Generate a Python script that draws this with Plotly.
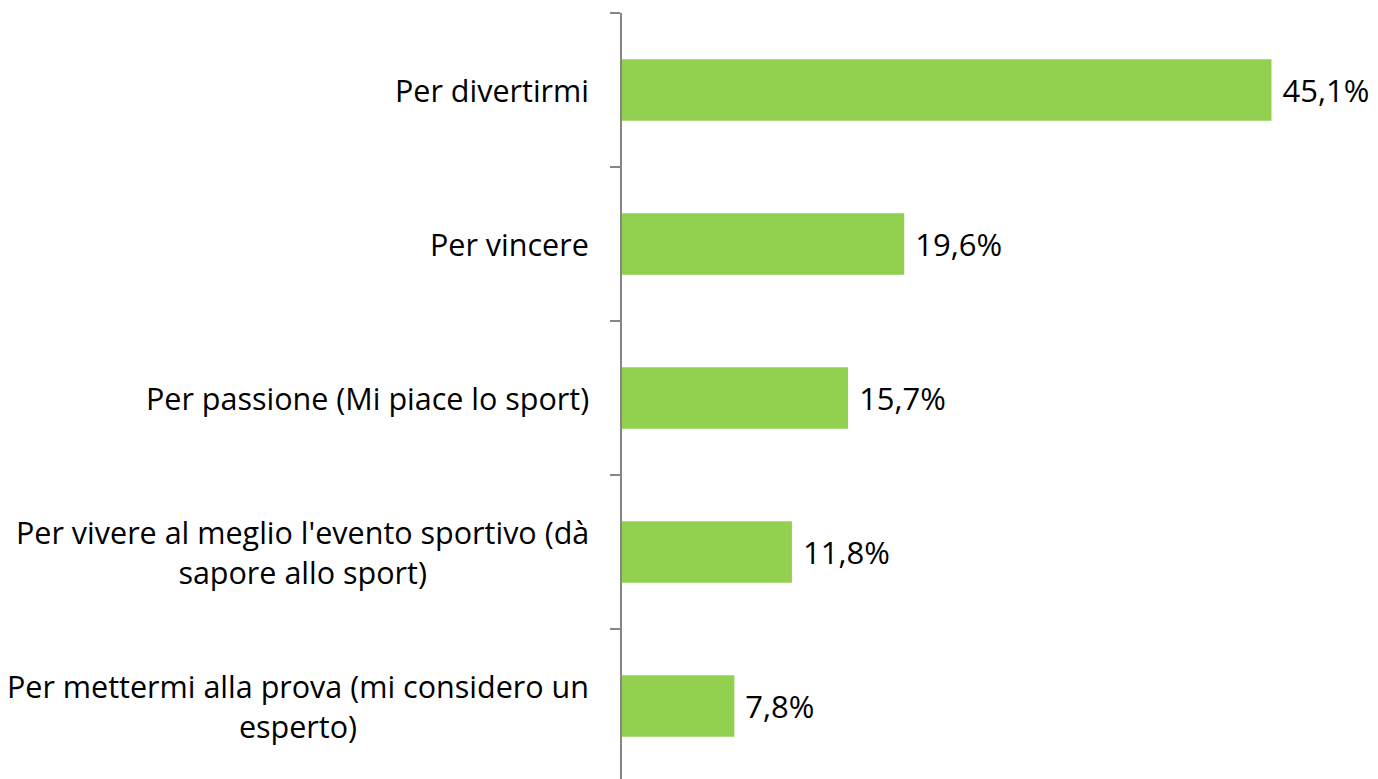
import plotly.graph_objects as go

# survey answers, top to bottom
categories = [
    "Per divertirmi",
    "Per vincere",
    "Per passione (Mi piace lo sport)",
    "Per vivere al meglio l'evento sportivo (dà<br>sapore allo sport)",
    "Per mettermi alla prova (mi considero un<br>esperto)",
]
values = [45.1, 19.6, 15.7, 11.8, 7.8]

font_name = "Open Sans"
green = "#92D050"

fig = go.Figure()
fig.add_trace(go.Bar(
    x=values,
    y=categories,
    orientation="h",
    marker=dict(color=green, line=dict(width=0)),
    texttemplate="\u00a0%{x:.1f}%",
    textposition="outside",
    textfont=dict(family=font_name, size=31, color="black"),
    cliponaxis=False,
))

# category labels as annotations so wrapped lines are centred like the original
for c in categories:
    fig.add_annotation(
        x=0, xref="paper", y=c, yref="y",
        text=c, showarrow=False,
        xanchor="right", xshift=-31, align="center",
        font=dict(family=font_name, size=30.5, color="black"),
    )

# page has a small body margin, so the figure is a bit smaller than the window
fig.update_layout(
    width=1370, height=771,
    margin=dict(l=614, r=36, t=5, b=0),
    plot_bgcolor="white", paper_bgcolor="white",
    separators=",.",
    bargap=0.6,
    showlegend=False,
    xaxis=dict(range=[0, 50], visible=False),
    yaxis=dict(
        type="category",
        categoryorder="array", categoryarray=categories,
        range=[4.474, -0.5],
        showticklabels=False,
        showline=True, linecolor="#868686", linewidth=1.5,
        ticks="outside", ticklen=10, tickcolor="#868686", tickwidth=1.5,
        tickson="boundaries",
        showgrid=False, zeroline=False,
    ),
)

fig.write_html("out.html")
